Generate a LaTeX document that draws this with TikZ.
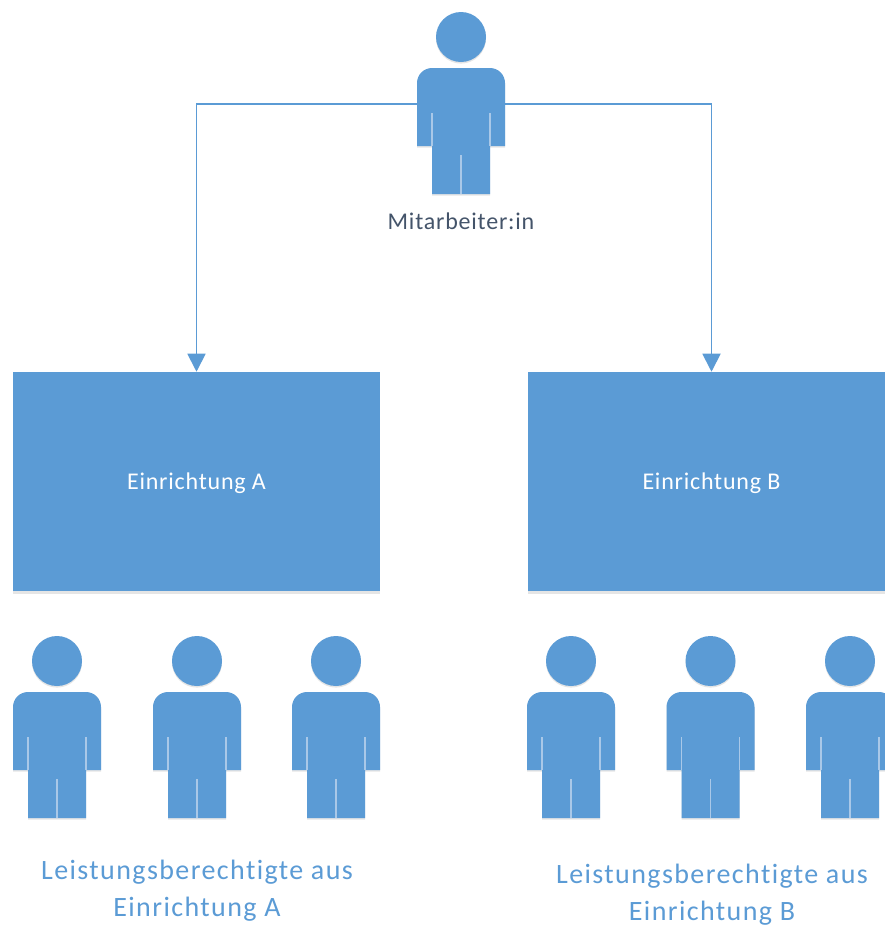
\documentclass[tikz,border=0pt]{standalone}
\usepackage{fontspec}
\setmainfont{Carlito}
\newfontfamily\smallspaced[LetterSpace=3.3,Ligatures=NoCommon]{Carlito}
\newfontfamily\widespaced[LetterSpace=5.0,Ligatures=NoCommon]{Carlito}
\usetikzlibrary{arrows.meta}
\definecolor{ublue}{HTML}{5B9BD5}
\definecolor{uslit}{HTML}{A9C8E8}
\definecolor{udark}{HTML}{44546A}
\tikzset{
  x=0.75pt, y=-0.75pt,
  personfill/.style={fill=ublue, draw=none},
  softshadow/.style={fill=black, fill opacity=0.10, draw=none},
  slit/.style={draw=uslit, line width=0.8pt},
  conn/.style={draw=ublue, line width=1.4pt, -{Triangle[length=13.5pt,width=13.5pt]}},
  orgbox/.style={rectangle, fill=ublue, draw=none, inner sep=0pt, minimum width=275.25pt, minimum height=164.25pt, text=white, font=\smallspaced\fontsize{18pt}{20pt}\selectfont},
  bluetext/.style={text=ublue, align=center, inner sep=0pt, font=\widespaced\fontsize{21pt}{27.75pt}\selectfont},
  darktext/.style={text=udark, inner sep=0pt, font=\smallspaced\fontsize{18pt}{20pt}\selectfont},
  pics/person/.style={code={
    \fill[softshadow, yshift=-1.2pt] (0,-25) circle[radius=18.75pt];
    \fill[softshadow, yshift=-1.2pt] (-44,84) -- (-44,21) arc[start angle=180,end angle=90,radius=11.25pt] -- (29,6) arc[start angle=90,end angle=0,radius=11.25pt] -- (44,84) -- (29,84) -- (29,132) -- (-29,132) -- (-29,84) -- cycle;
    \fill[personfill] (0,-25) circle[radius=18.75pt];
    \fill[personfill] (-44,84) -- (-44,21) arc[start angle=180,end angle=90,radius=11.25pt] -- (29,6) arc[start angle=90,end angle=0,radius=11.25pt] -- (44,84) -- (29,84) -- (29,132) -- (-29,132) -- (-29,84) -- cycle;
    \draw[slit] (-29,51) -- (-29,84);
    \draw[slit] (29,51) -- (29,84);
    \draw[slit] (0,93) -- (0,132);
  }}
}
\begin{document}
\begin{tikzpicture}
\useasboundingbox (0,0) rectangle (885,925);
\clip (0,0) rectangle (885,925);
\fill[softshadow] (13,372) rectangle (380,593.5);
\fill[softshadow] (528,372) rectangle (895,593.5);
\node[orgbox] (boxA) at (196.5,481.5) {\raisebox{-6.2pt}[0pt][0pt]{Einrichtung A}};
\node[orgbox] (boxB) at (711.5,481.5) {\raisebox{-6.2pt}[0pt][0pt]{Einrichtung B}};
\coordinate (mitL) at (418,104);
\coordinate (mitR) at (504,104);
\draw[conn] (mitL) -| (boxA.north);
\draw[conn] (mitR) -| (boxB.north);
\pic at (461,62) {person};
\node[darktext] (mit) at (461,221) {Mitarbeiter:in};
\pic at (57,686) {person};
\pic at (197,686) {person};
\pic at (336,686) {person};
\pic at (571,686) {person};
\pic at (710.5,686) {person};
\pic at (850,686) {person};
\node[bluetext] (lbA) at (197,891) {Leistungsberechtigte aus\\Einrichtung A};
\node[bluetext] (lbB) at (712,894.5) {Leistungsberechtigte aus\\Einrichtung B};
\end{tikzpicture}
\end{document}
